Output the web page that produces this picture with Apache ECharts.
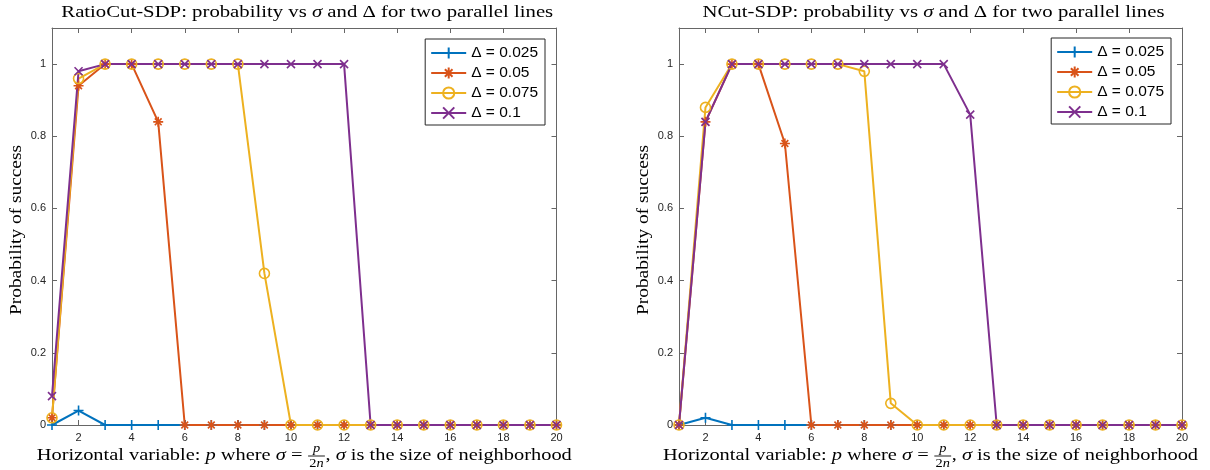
<!DOCTYPE html>
<html><head><meta charset="utf-8">
<script src="https://cdn.jsdelivr.net/npm/echarts@6/dist/echarts.min.js"></script>
<style>html,body{margin:0;padding:0;background:#fff}#c{width:1210px;height:470px}</style>
</head><body><div id="c"></div>
<script>
// ---- data ----
const pValues = [1,2,3,4,5,6,7,8,9,10,11,12,13,14,15,16,17,18,19,20];
const xTicks = [2,4,6,8,10,12,14,16,18,20];
const yTicks = [0,0.2,0.4,0.6,0.8,1];
const seriesNames = ['Δ = 0.025','Δ = 0.05','Δ = 0.075','Δ = 0.1'];

const ratioD025 = [0,0.04,0,0,0,0,0,0,0,0,0,0,0,0,0,0,0,0,0,0];
const ratioD050 = [0.02,0.94,1,1,0.84,0,0,0,0,0,0,0,0,0,0,0,0,0,0,0];
const ratioD075 = [0.02,0.96,1,1,1,1,1,1,0.42,0,0,0,0,0,0,0,0,0,0,0];
const ratioD100 = [0.08,0.98,1,1,1,1,1,1,1,1,1,1,0,0,0,0,0,0,0,0];

const ncutD025 = [0,0.02,0,0,0,0,0,0,0,0,0,0,0,0,0,0,0,0,0,0];
const ncutD050 = [0,0.84,1,1,0.78,0,0,0,0,0,0,0,0,0,0,0,0,0,0,0];
const ncutD075 = [0,0.88,1,1,1,1,1,0.98,0.06,0,0,0,0,0,0,0,0,0,0,0];
const ncutD100 = [0,0.84,1,1,1,1,1,1,1,1,1,0.86,0,0,0,0,0,0,0,0];

const panelTitles = ['RatioCut-SDP', 'NCut-SDP'];
const yAxisName = 'Probability of success';

// ---- styles ----
const SERIF = 'Liberation Serif';
const SANS = 'Liberation Sans';
const AX = '#666666';
const colors = ['#0072BD','#D95319','#EDB120','#7E2F8E'];
const symbols = [
  {symbol:'path://M5,0L5,10M0,5L10,5', size:10, fill:colors[0]},
  {symbol:'path://M5,0L5,10M0,5L10,5M1.6,1.6L8.4,8.4M8.4,1.6L1.6,8.4', size:10, fill:colors[1]},
  {symbol:'circle', size:10, fill:'rgba(0,0,0,0)'},
  {symbol:'path://M0,0L10,10M10,0L0,10', size:8, fill:colors[3]}
];
const grids = [
  {left:52, top:28, width:504.5, height:397},
  {left:679, top:28, width:503, height:397}
];
const panelData = [[ratioD025,ratioD050,ratioD075,ratioD100],[ncutD025,ncutD050,ncutD075,ncutD100]];

const series = [];
panelData.forEach((arrs, g) => {
  arrs.forEach((vals, k) => {
    series.push({
      type:'line', name: seriesNames[k], xAxisIndex: g*2, yAxisIndex: g*2,
      data: pValues.map((p,i)=>[p, vals[i]]),
      symbol: symbols[k].symbol, symbolSize: symbols[k].size, showAllSymbol: true, clip: false,
      lineStyle:{color: colors[k], width: 2},
      itemStyle:{color: symbols[k].fill, borderColor: colors[k], borderWidth: 1.6},
      emphasis:{disabled:true}, animation:false
    });
  });
});

const xAxes = [], yAxes = [];
grids.forEach((gr, g) => {
  const common = {type:'value', gridIndex:g, splitLine:{show:false},
    axisLine:{show:true, onZero:false, lineStyle:{color:AX, width:1}}};
  xAxes.push(Object.assign({}, common, {position:'bottom', min:1, max:20,
    axisTick:{show:true, inside:true, length:5, customValues:xTicks, lineStyle:{color:AX}},
    axisLabel:{customValues:xTicks, color:'#262626', fontSize:11, fontFamily:SANS, margin:7}}));
  xAxes.push(Object.assign({}, common, {position:'top', min:1, max:20,
    axisTick:{show:true, inside:true, length:5, customValues:xTicks, lineStyle:{color:AX}},
    axisLabel:{show:false}}));
  yAxes.push(Object.assign({}, common, {position:'left', min:0, max:1.1,
    axisTick:{show:true, inside:true, length:5, customValues:yTicks, lineStyle:{color:AX}},
    axisLabel:{customValues:yTicks, color:'#262626', fontSize:11, fontFamily:SANS, margin:6}}));
  yAxes.push(Object.assign({}, common, {position:'right', min:0, max:1.1,
    axisTick:{show:true, inside:true, length:5, customValues:yTicks, lineStyle:{color:AX}},
    axisLabel:{show:false}}));
});

// ---- text helpers (titles and labels with LaTeX-like pieces) ----
const mc = document.createElement('canvas').getContext('2d');
function w(text, size, italic){ mc.font = (italic?'italic ':'') + size + 'px "' + SERIF + '"'; return mc.measureText(text).width; }
function txt(text, x, y, size, italic, align){
  return {type:'text', x: x, y: y, silent:true, style:{text:text, fontFamily:SERIF, fontSize:size,
    fontStyle: italic?'italic':'normal', fill:'#000', align:align, verticalAlign:'middle',
    textAlign:align, textVerticalAlign:'middle'}};
}
function pieceGroup(pieces, cx, cy, size, sx, rotation){
  let total = 0;
  const widths = pieces.map(pc => {
    if (pc.frac) { const fw = Math.max(w(pc.frac[0],12,true), w(pc.frac[1],12,false)) + 3; total += fw; return fw; }
    const ww = w(pc[0], size, pc[1]); total += ww; return ww;
  });
  let x = -total/2;
  const els = [];
  pieces.forEach((pc, i) => {
    if (pc.frac) {
      const fw = widths[i], mid = x + fw/2;
      els.push(txt(pc.frac[0], mid, -7, 12, true, 'center'));
      els.push({type:'line', silent:true, shape:{x1:x+0.5, y1:0, x2:x+fw-0.5, y2:0}, style:{stroke:'#000', lineWidth:0.8}});
      const d2 = w('2', 12, false);
      els.push(txt('2', mid - w('n',12,true)/2, 8, 12, false, 'center'));
      els.push(txt('n', mid + d2/2, 8, 12, true, 'center'));
    } else {
      els.push(txt(pc[0], x, 0, size, pc[1], 'left'));
    }
    x += widths[i];
  });
  return {type:'group', x: cx, y: cy, scaleX: sx, scaleY: 1, rotation: rotation || 0, silent:true, children: els};
}
const graphics = [];
grids.forEach((gr, g) => {
  const cx = gr.left + gr.width/2;
  graphics.push(pieceGroup([[panelTitles[g] + ': probability vs ', false], ['σ', true], [' and Δ for two parallel lines', false]], cx + 3, 13, 17, 1.22));
  graphics.push(pieceGroup([['Horizontal variable: ', false], ['p', true], [' where ', false], ['σ', true], [' = ', false],
    {frac:['p','2n']}, [', ', false], ['σ', true], [' is the size of neighborhood', false]], cx, 456, 17, 1.2));
  graphics.push(pieceGroup([[yAxisName, false]], gr.left - 35, 230, 17, 1.14, Math.PI/2));
});

const legends = [
  {right: 665, top: 39},
  {right: 39, top: 38}
].map(pos => Object.assign(pos, {
  orient:'vertical', data: seriesNames, itemWidth:35, itemHeight:14, itemGap:4,
  padding:[6,7,4,5], borderColor:'#262626', borderWidth:1, backgroundColor:'#fff',
  textStyle:{fontSize:15.5, lineHeight:14, fontFamily:SANS, color:'#000'}, selectedMode:false
}));

const chart = echarts.init(document.getElementById('c'));
chart.setOption({
  animation:false,
  backgroundColor:'#fff',
  grid: grids,
  xAxis: xAxes,
  yAxis: yAxes,
  legend: legends,
  series: series,
  graphic: {elements: graphics}
});
</script></body></html>
